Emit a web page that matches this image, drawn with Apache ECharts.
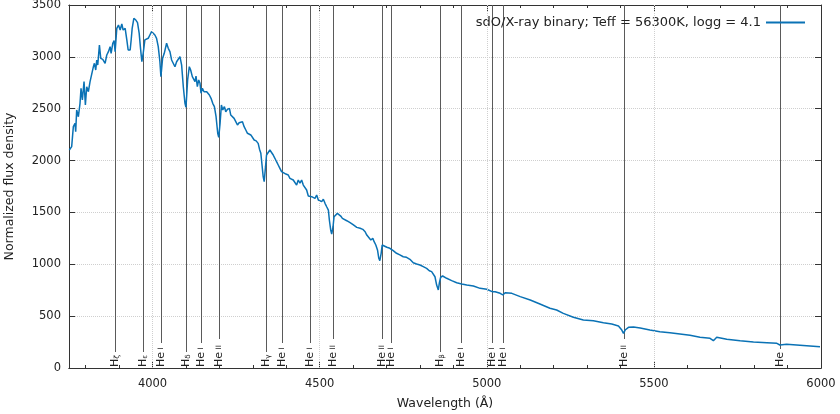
<!DOCTYPE html>
<html>
<head>
<meta charset="utf-8">
<script src="https://cdn.jsdelivr.net/npm/echarts@6/dist/echarts.min.js"></script>
<style>html,body{margin:0;padding:0;background:#fff}#chart{width:840px;height:414px}</style>
</head>
<body>
<div id="chart"></div>
<script>
// Spectrum (wavelength in Å, normalized flux density)
const wavelength = [3751,3758,3763,3768,3770,3773,3778,3783,3786,3790,3795,3799,3803,3808,3813,3818,3823,3826,3830,3833,3836,3841,3845,3851,3858,3863,3868,3873,3876,3881,3885,3888,3893,3898,3903,3908,3912,3918,3923,3927,3933,3936,3939,3944,3950,3955,3960,3964,3968,3972,3977,3982,3987,3992,3997,4002,4007,4012,4017,4022,4025,4030,4035,4042,4047,4052,4057,4062,4067,4072,4077,4082,4087,4092,4097,4100,4105,4110,4114,4119,4124,4127,4130,4134,4138,4142,4145,4149,4154,4162,4170,4175,4180,4185,4190,4195,4198,4202,4206,4210,4215,4219,4224,4230,4234,4239,4244,4249,4254,4259,4264,4269,4274,4279,4284,4289,4294,4299,4304,4310,4316,4320,4324,4327,4331,4334,4338,4341,4346,4351,4356,4361,4366,4371,4376,4381,4386,4391,4399,4406,4411,4416,4421,4426,4431,4436,4441,4446,4451,4456,4461,4466,4471,4476,4481,4486,4491,4496,4501,4506,4511,4516,4521,4526,4529,4533,4536,4540,4543,4548,4553,4558,4563,4568,4573,4581,4591,4601,4611,4621,4629,4636,4641,4646,4653,4659,4663,4668,4673,4677,4680,4684,4687,4692,4701,4710,4720,4730,4740,4750,4760,4770,4780,4790,4800,4810,4820,4828,4835,4845,4850,4855,4858,4862,4868,4880,4895,4910,4925,4940,4960,4980,5000,5016,5025,5040,5048,5055,5075,5100,5130,5159,5189,5209,5229,5259,5289,5319,5349,5374,5394,5404,5409,5414,5424,5439,5459,5488,5518,5548,5578,5608,5638,5668,5678,5688,5718,5758,5798,5838,5868,5877,5897,5927,5957,5997];
const flux = [2102,2134,2327,2359,2279,2488,2423,2552,2697,2584,2761,2536,2712,2664,2761,2777,2905,2938,2873,2970,2921,3114,2986,2976,2938,3018,3050,3098,3034,3131,3156,3050,3275,3307,3259,3317,3259,3275,3163,3066,3066,3163,3275,3372,3355,3330,3227,3082,2953,3034,3163,3146,3179,3211,3243,3252,3211,3179,3098,2953,2809,2986,3034,3131,3082,3050,2970,2963,2905,2953,2938,3002,2920,2712,2552,2514,2780,2905,2873,2809,2825,2761,2815,2712,2777,2745,2649,2697,2664,2664,2632,2600,2552,2520,2423,2263,2224,2359,2536,2488,2520,2471,2494,2504,2439,2456,2407,2375,2343,2365,2359,2375,2327,2295,2263,2247,2247,2230,2198,2190,2166,2110,2070,1974,1845,1796,1941,2054,2070,2102,2118,2054,2022,1989,1957,1925,1893,1883,1870,1861,1829,1845,1813,1796,1764,1813,1781,1813,1764,1781,1716,1658,1652,1652,1668,1636,1668,1620,1636,1604,1627,1588,1555,1523,1427,1331,1292,1362,1459,1475,1491,1507,1465,1443,1453,1420,1401,1379,1356,1347,1337,1314,1282,1266,1234,1250,1218,1186,1138,1058,1035,1106,1186,1176,1164,1154,1131,1106,1090,1073,1067,1048,1015,1003,993,977,961,938,929,880,800,752,817,875,887,865,842,822,810,800,791,768,759,736,736,720,704,726,720,688,656,617,576,559,527,489,463,456,437,424,405,366,334,366,392,395,385,366,350,340,328,315,296,286,263,296,277,263,251,244,238,222,228,222,215,205];

// Identified spectral lines
const lineWavelengths = [3889,3970,4026,4101,4144,4200,4340,4388,4471,4541,4686,4713,4861,4922,5016,5048,5412,5876];
const lineIons = ['H','H','He','H','He','He','H','He','He','He','He','He','H','He','He','He','He','He'];
const lineStages = ['ζ','ε','I','δ','I','II','γ','I','I','II','II','I','β','I','I','I','II',''];

// Axis ticks
const xMin = 3750, xMax = 6000;
const xMajorTicks = [4000, 4500, 5000, 5500, 6000];
const xMinorTicks = [3800,3900,4000,4100,4200,4300,4400,4500,4600,4700,4800,4900,5000,5100,5200,5300,5400,5500,5600,5700,5800,5900];
const xGridLines = [4000, 4500, 5000, 5500];
const yMin = 0, yMax = 3500, yStep = 500;
const seriesName = 'sdO/X-ray binary; Teff = 56300K, logg = 4.1';

const FONT = 'DejaVu Sans';
const TXT = '#222';
const AX = '#333';
const GRID = '#cfcfcf';
const chart = echarts.init(document.getElementById('chart'), null, {renderer: 'canvas'});

const specData = wavelength.map((w, i) => [w, flux[i]]);
const lineData = lineWavelengths.map((w, i) => [w, 0, i]);

function labelLen(i) {
  const ion = lineIons[i], st = lineStages[i];
  if (ion === 'H') return 16;
  if (st === '') return 19;
  if (st === 'I') return 25;
  return 29;
}

function xAxisDef(pos, ticks, len, extra) {
  return Object.assign({
    type: 'value', min: xMin, max: xMax, interval: 50,
    position: pos,
    axisLine: {show: true, onZero: false, lineStyle: {color: AX, width: 1}},
    axisTick: {show: true, inside: true, length: len, customValues: ticks, lineStyle: {color: AX}},
    axisLabel: {show: false},
    splitLine: {show: false}
  }, extra || {});
}
const baseAxisY = {
  type: 'value', min: yMin, max: yMax, interval: yStep,
  axisLine: {show: true, onZero: false, lineStyle: {color: AX, width: 1}},
  axisTick: {show: true, inside: true, length: 6, lineStyle: {color: AX}},
};

chart.setOption({
  animation: false,
  textStyle: {fontFamily: FONT},
  grid: {left: 69, right: 19, top: 5, bottom: 46, show: false, containLabel: false, outerBoundsMode: 'none'},
  legend: {
    show: true, right: 30, top: 11, align: 'right',
    icon: 'rect', itemWidth: 39, itemHeight: 2, itemGap: 5,
    textStyle: {fontFamily: FONT, fontSize: 13, color: TXT},
    data: [seriesName]
  },
  xAxis: [
    xAxisDef('bottom', xMajorTicks, 6, {
      name: 'Wavelength (Å)', nameLocation: 'middle', nameGap: 29,
      nameTextStyle: {fontFamily: FONT, fontSize: 12.5, color: TXT},
      axisLabel: {show: true, customValues: xMajorTicks, margin: 10, fontFamily: FONT, fontSize: 11.5, color: TXT,
        formatter: v => String(v)}
    }),
    xAxisDef('bottom', xMinorTicks, 3),
    xAxisDef('top', xMajorTicks, 6),
    xAxisDef('top', xMinorTicks, 3)
  ],
  yAxis: [
    Object.assign({}, baseAxisY, {
      position: 'left',
      name: 'Normalized flux density', nameLocation: 'middle', nameGap: 53,
      nameTextStyle: {fontFamily: FONT, fontSize: 12.5, color: TXT},
      axisLabel: {show: true, margin: 8, fontFamily: FONT, fontSize: 11.5, color: TXT, formatter: v => String(v)},
      splitLine: {show: true, lineStyle: {type: 'dotted', color: GRID, width: 1}}
    }),
    Object.assign({}, baseAxisY, {
      position: 'right', axisLabel: {show: false}, splitLine: {show: false}
    })
  ],
  series: [
    {
      type: 'line',
      name: 'xgrid',
      xAxisIndex: 0, yAxisIndex: 0,
      z: 0,
      data: [],
      silent: true,
      markLine: {
        silent: true,
        symbol: ['none', 'none'],
        label: {show: false},
        animation: false,
        lineStyle: {type: 'dotted', color: GRID, width: 1},
        emphasis: {disabled: true},
        data: xGridLines.map(v => ({xAxis: v}))
      }
    },
    {
      type: 'custom',
      name: 'lines',
      xAxisIndex: 0, yAxisIndex: 0,
      z: 1,
      silent: true,
      data: lineData,
      renderItem: function (params, api) {
        const i = api.value(2);
        const top = api.coord([api.value(0), yMax]);
        const bot = api.coord([api.value(0), yMin]);
        const x = Math.round(top[0]) + 0.5;
        const ion = lineIons[i], st = lineStages[i];
        const isH = ion === 'H';
        const text = isH ? '{a|H}{s|' + st + '}' : (st ? '{a|He}{r| ' + st + '}' : '{a|He}');
        return {
          type: 'group',
          children: [
            {
              type: 'line',
              shape: {x1: x, y1: top[1], x2: x, y2: bot[1] - labelLen(i)},
              style: {stroke: '#5a5a5a', lineWidth: 1}
            },
            {
              type: 'text',
              x: x, y: bot[1] - 1,
              rotation: Math.PI / 2,
              style: {
                text: text,
                align: 'left', verticalAlign: 'middle',
                fill: TXT,
                rich: {
                  a: {fontFamily: FONT, fontSize: 11, fill: TXT},
                  s: {fontFamily: FONT, fontSize: 7, fill: TXT, verticalAlign: 'bottom', padding: [4, 0, 0, 0]},
                  r: {fontFamily: FONT, fontSize: 7.5, fill: TXT}
                }
              }
            }
          ]
        };
      }
    },
    {
      type: 'line',
      name: seriesName,
      xAxisIndex: 0, yAxisIndex: 0,
      z: 3,
      data: specData,
      showSymbol: false,
      symbol: 'none',
      lineStyle: {color: '#0a72b5', width: 1.5},
      itemStyle: {color: '#0a72b5'}
    }
  ]
});
</script>
</body>
</html>
